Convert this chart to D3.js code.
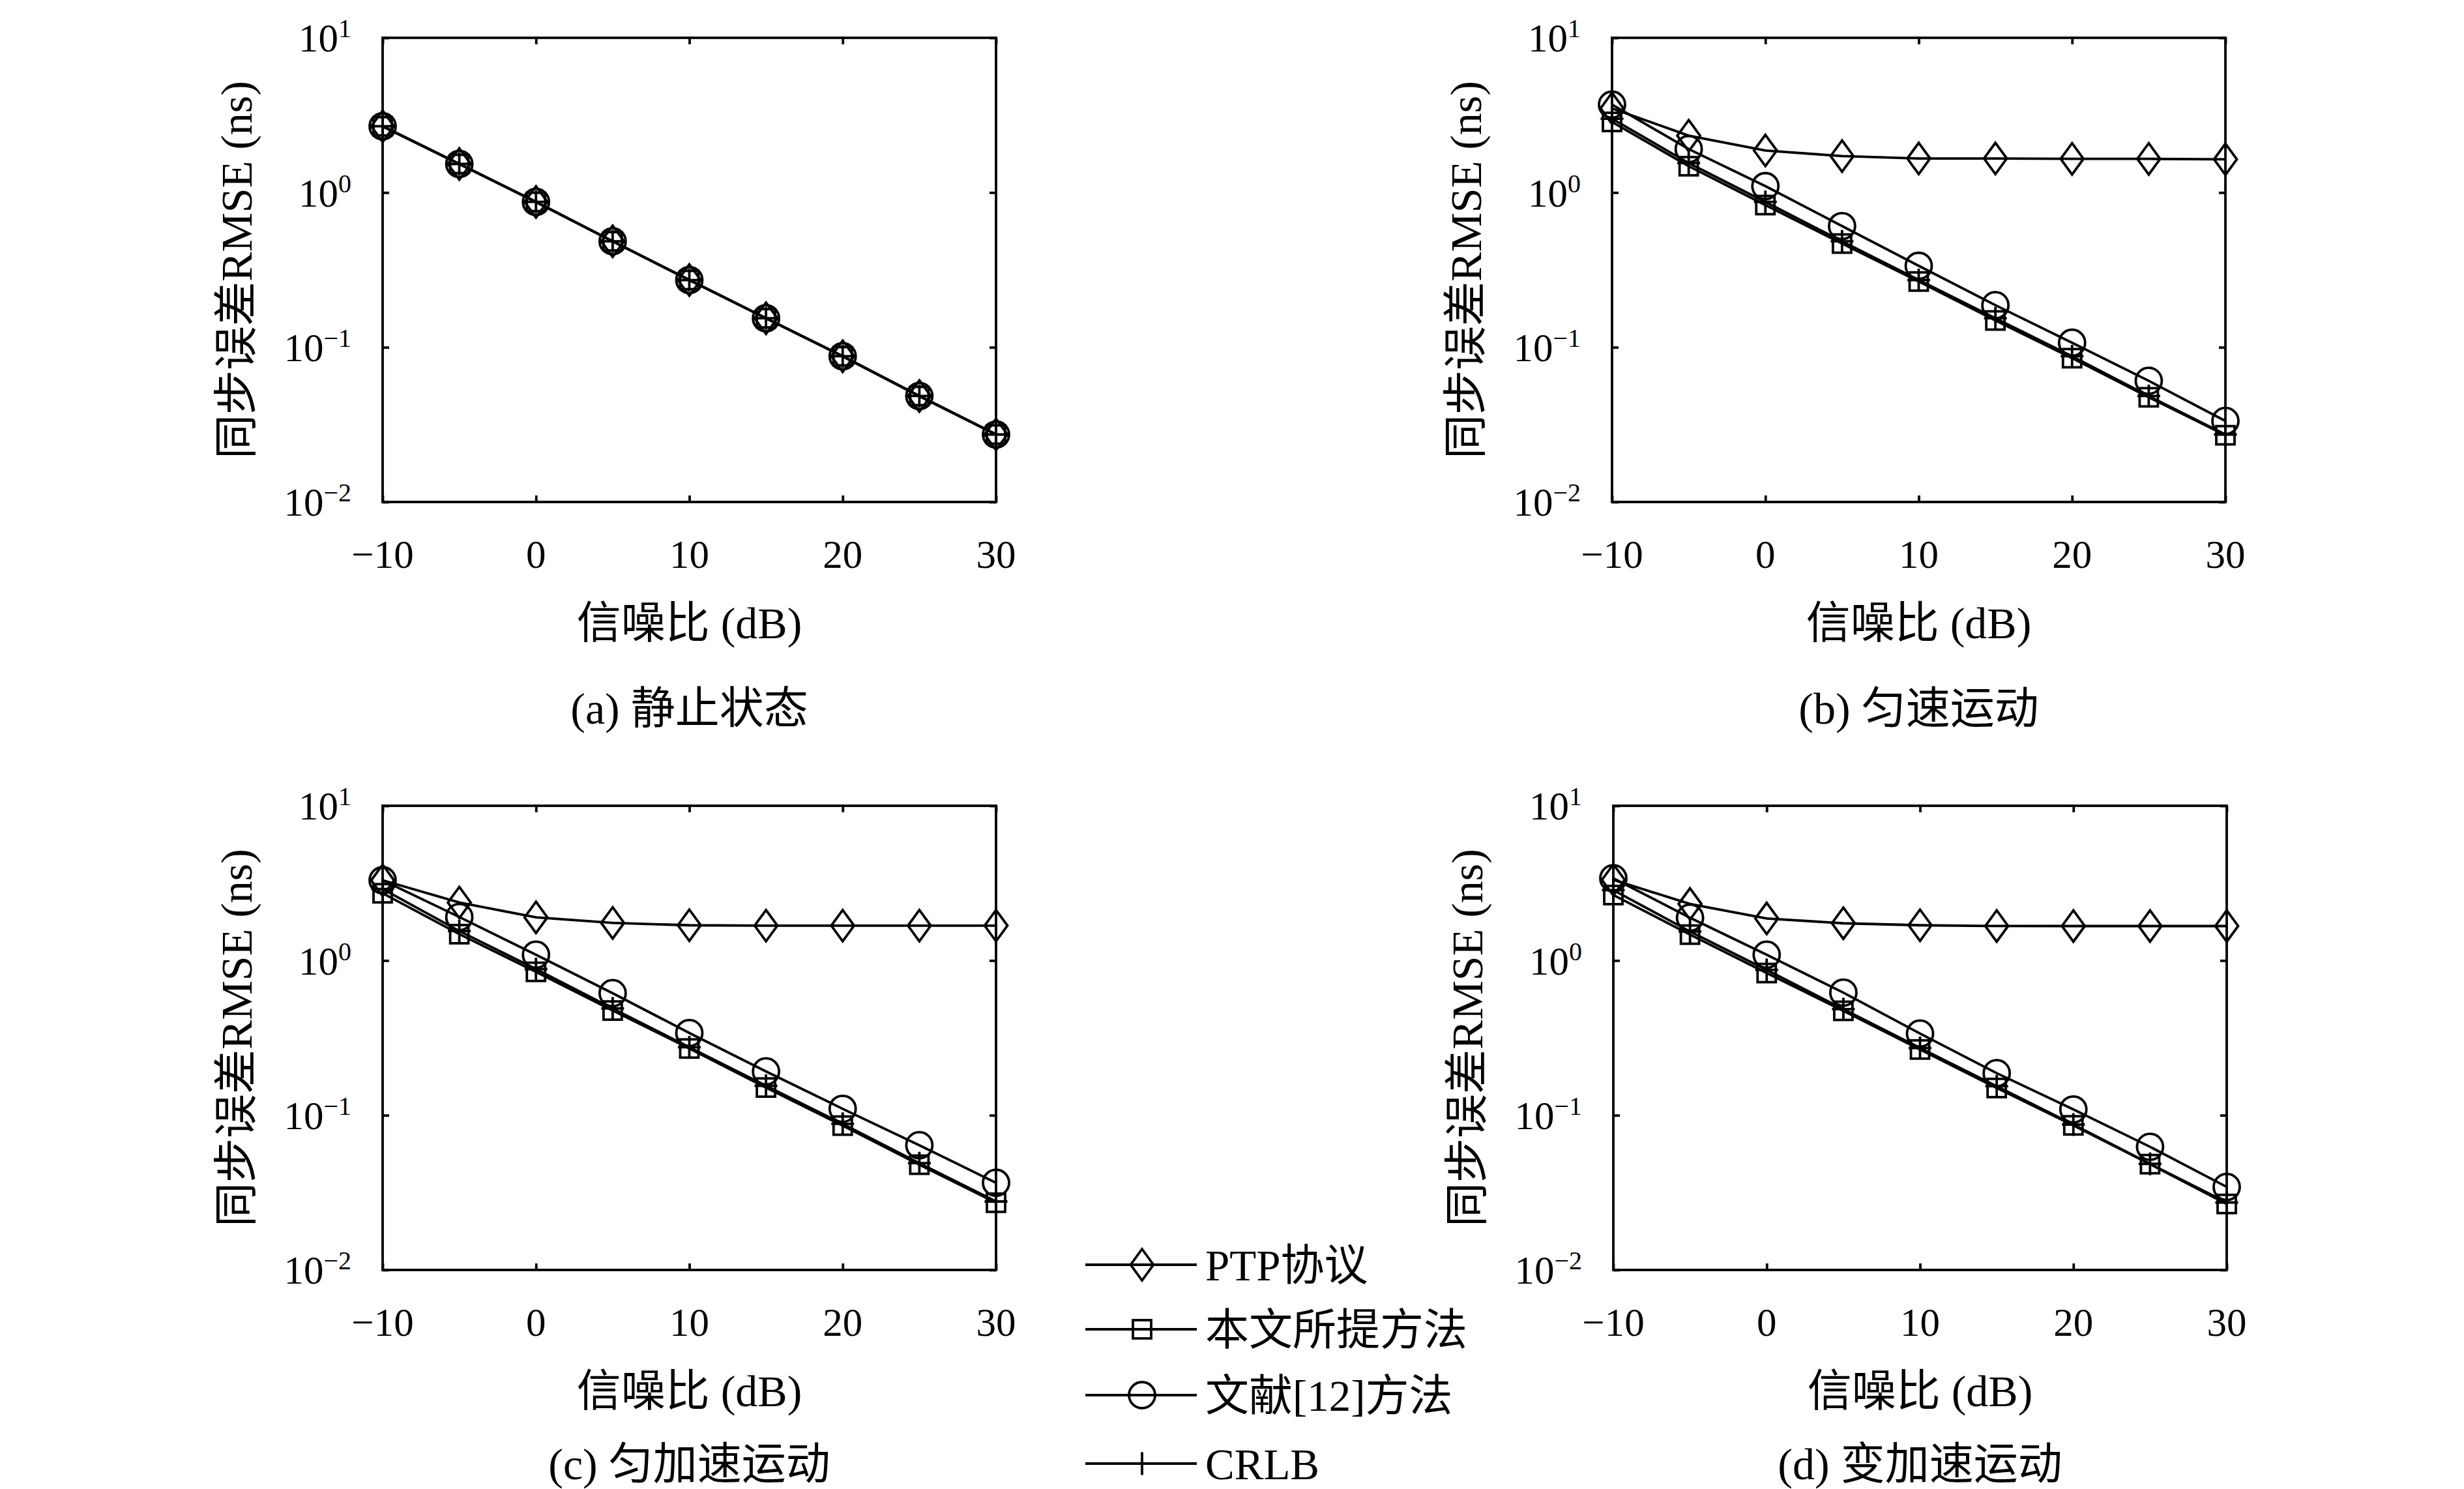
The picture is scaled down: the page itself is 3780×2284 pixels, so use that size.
<!DOCTYPE html>
<html>
<head>
<meta charset="utf-8">
<script src="https://cdn.jsdelivr.net/npm/d3@7"></script>
<style>
  html, body { margin: 0; padding: 0; background: #ffffff; }
  svg { display: block; }
  text { font-family: 'Liberation Serif', 'DejaVu Serif', 'Noto Sans CJK SC', serif; fill: #000; }
</style>
</head>
<body>
<svg id="chart"></svg>
<script>
// signal to noise ratio (dB), same for all panels
const snr = [-10, -5, 0, 5, 10, 15, 20, 25, 30]
const xTicks = [-10, 0, 10, 20, 30]
const yTicks = [0.01, 0.1, 1, 10]

const seriesNames = ['PTP协议', '本文所提方法', '文献[12]方法', 'CRLB']
const captions = ['(a) 静止状态', '(b) 匀速运动', '(c) 匀加速运动', '(d) 变加速运动']
const xLabel = '信噪比 (dB)'
const yLabel = '同步误差RMSE (ns)'

// (a) static
const staticPTP      = [2.68, 1.53, 0.87, 0.484, 0.272, 0.154, 0.0875, 0.0484, 0.0273]
const staticProposed = [2.68, 1.53, 0.87, 0.484, 0.272, 0.154, 0.0875, 0.0484, 0.0273]
const staticRef12    = [2.68, 1.53, 0.87, 0.484, 0.272, 0.154, 0.0875, 0.0484, 0.0273]
const staticCRLB     = [2.68, 1.53, 0.87, 0.484, 0.272, 0.154, 0.0875, 0.0484, 0.0273]

// (b) uniform motion
const uniformPTP      = [3.5, 2.33, 1.87, 1.72, 1.66, 1.66, 1.65, 1.65, 1.64]
const uniformProposed = [2.86, 1.48, 0.83, 0.468, 0.266, 0.149, 0.085, 0.0475, 0.027]
const uniformRef12    = [3.7, 1.91, 1.10, 0.607, 0.336, 0.187, 0.107, 0.0607, 0.0334]
const uniformCRLB     = [3.0, 1.55, 0.87, 0.484, 0.272, 0.154, 0.0875, 0.0484, 0.0273]

// (c) uniform acceleration
const accelPTP      = [3.3, 2.37, 1.90, 1.75, 1.69, 1.68, 1.68, 1.68, 1.68]
const accelProposed = [2.72, 1.48, 0.845, 0.475, 0.27, 0.151, 0.0857, 0.0479, 0.0272]
const accelRef12    = [3.3, 1.91, 1.09, 0.615, 0.34, 0.192, 0.11, 0.064, 0.0366]
const accelCRLB     = [2.9, 1.55, 0.88, 0.49, 0.275, 0.155, 0.088, 0.049, 0.0277]

// (d) variable acceleration
const varPTP      = [3.32, 2.32, 1.87, 1.74, 1.69, 1.67, 1.67, 1.67, 1.67]
const varProposed = [2.65, 1.47, 0.83, 0.473, 0.266, 0.15, 0.086, 0.0483, 0.0267]
const varRef12    = [3.4, 1.89, 1.09, 0.62, 0.337, 0.187, 0.109, 0.0625, 0.0344]
const varCRLB     = [2.85, 1.54, 0.87, 0.485, 0.272, 0.154, 0.087, 0.0485, 0.0273]

const panelData = [
    [staticPTP, staticProposed, staticRef12, staticCRLB],
    [uniformPTP, uniformProposed, uniformRef12, uniformCRLB],
    [accelPTP, accelProposed, accelRef12, accelCRLB],
    [varPTP, varProposed, varRef12, varCRLB],
]
const markers = ['diamond', 'square', 'circle', 'plus']

const W = 3780, H = 2284
const svg = d3.select('#chart').attr('width', W).attr('height', H)
svg.append('rect').attr('width', W).attr('height', H).attr('fill', '#ffffff')

const plotW = 941, plotH = 712
const panels = [
    {left: 587, top: 58, capDy: 316},
    {left: 2473, top: 58, capDy: 316},
    {left: 587, top: 1236, capDy: 297},
    {left: 2475, top: 1236, capDy: 297},
]

const SW = 3.8
const tickFont = 61, labelFont = 68

function drawMarker (g, type, cx, cy) {
    if (type == 'circle') {
        g.append('circle').attr('cx', cx).attr('cy', cy).attr('r', 20)
        .attr('fill', 'none').attr('stroke', '#000').attr('stroke-width', SW)
    } else if (type == 'square') {
        g.append('rect').attr('x', cx - 14).attr('y', cy - 14).attr('width', 28).attr('height', 28)
        .attr('fill', 'none').attr('stroke', '#000').attr('stroke-width', SW)
    } else if (type == 'diamond') {
        g.append('path')
        .attr('d', `M${cx},${cy - 24}L${cx + 17.5},${cy}L${cx},${cy + 24}L${cx - 17.5},${cy}Z`)
        .attr('fill', 'none').attr('stroke', '#000').attr('stroke-width', SW)
    } else {
        g.append('path')
        .attr('d', `M${cx - 17.5},${cy}H${cx + 17.5}M${cx},${cy - 17.5}V${cy + 17.5}`)
        .attr('fill', 'none').attr('stroke', '#000').attr('stroke-width', SW)
    }
}

panels.forEach((p, i) => {
    let g = svg.append('g').attr('transform', `translate(${p.left},${p.top})`)

    let x = d3.scaleLinear().domain([-10, 30]).range([0, plotW])
    let y = d3.scaleLog().domain([0.01, 10]).range([plotH, 0])

    // inward ticks on all four sides
    g.append('g').attr('transform', `translate(0,${plotH})`)
    .call(d3.axisBottom(x).tickValues(xTicks).tickSize(-10).tickFormat(''))
    g.append('g').call(d3.axisTop(x).tickValues(xTicks).tickSize(-10).tickFormat(''))
    g.append('g').call(d3.axisLeft(y).tickValues(yTicks).tickSize(-10).tickFormat(''))
    g.append('g').attr('transform', `translate(${plotW},0)`)
    .call(d3.axisRight(y).tickValues(yTicks).tickSize(-10).tickFormat(''))
    g.selectAll('.domain').remove()
    g.selectAll('.tick line').attr('stroke', '#000').attr('stroke-width', SW)

    g.append('rect').attr('width', plotW).attr('height', plotH)
    .attr('fill', 'none').attr('stroke', '#000').attr('stroke-width', SW)

    // x tick labels
    g.selectAll('text.xtick')
    .data(xTicks)
    .enter()
    .append('text')
    .attr('class', 'xtick')
    .attr('x', (d) => x(d))
    .attr('y', plotH + 80)
    .attr('dy', '0.35em')
    .attr('text-anchor', 'middle')
    .style('font-size', tickFont + 'px')
    .text((d) => d3.format('d')(d))

    // y tick labels, 10^n
    let yt = g.selectAll('text.ytick')
    .data(yTicks)
    .enter()
    .append('text')
    .attr('class', 'ytick')
    .attr('x', -48)
    .attr('y', (d) => y(d))
    .attr('dy', '0.35em')
    .attr('text-anchor', 'end')
    .style('font-size', tickFont + 'px')
    yt.append('tspan').text('10')
    yt.append('tspan').attr('dy', -22).style('font-size', '40px')
    .text((d) => d3.format('d')(Math.round(Math.log10(d))))

    g.append('text')
    .attr('x', plotW / 2).attr('y', plotH + 185).attr('dy', '0.36em')
    .attr('text-anchor', 'middle')
    .style('font-size', labelFont + 'px')
    .text(xLabel)

    g.append('text')
    .attr('transform', `translate(-225,${plotH / 2}) rotate(-90)`)
    .attr('dy', '0.36em')
    .attr('text-anchor', 'middle')
    .style('font-size', labelFont + 'px')
    .text(yLabel)

    g.append('text')
    .attr('x', plotW / 2).attr('y', plotH + p.capDy).attr('dy', '0.36em')
    .attr('text-anchor', 'middle')
    .style('font-size', labelFont + 'px')
    .text(captions[i])

    let line = d3.line().x((d) => x(d[0])).y((d) => y(d[1]))

    panelData[i].forEach((vals, s) => {
        let pts = snr.map((v, k) => [v, vals[k]])
        g.append('path').datum(pts)
        .attr('d', line)
        .attr('fill', 'none')
        .attr('stroke', '#000')
        .attr('stroke-width', SW)
        pts.forEach((d) => drawMarker(g, markers[s], x(d[0]), y(d[1])))
    })
})

// legend
let legend = svg.append('g')
let legendRows = [1940, 2039, 2140, 2245]
seriesNames.forEach((name, s) => {
    let ly = legendRows[s]
    legend.append('line')
    .attr('x1', 1665).attr('x2', 1836).attr('y1', ly).attr('y2', ly)
    .attr('stroke', '#000').attr('stroke-width', SW)
    drawMarker(legend, markers[s], 1752, ly)
    legend.append('text')
    .attr('x', 1849).attr('y', ly).attr('dy', '0.36em')
    .style('font-size', '67px')
    .text(name)
})
</script>
</body>
</html>
